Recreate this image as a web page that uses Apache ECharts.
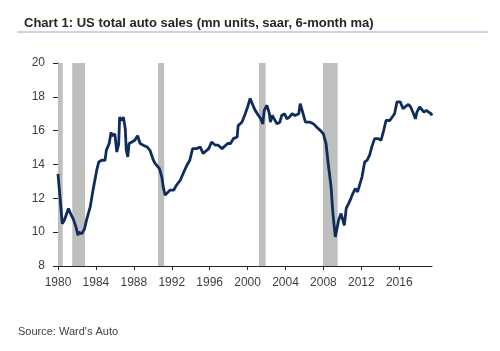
<!DOCTYPE html>
<html>
<head>
<meta charset="utf-8">
<script src="https://cdn.jsdelivr.net/npm/echarts@6/dist/echarts.min.js"></script>
<style>
  html, body { margin: 0; padding: 0; background: #fff; }
  #chart { width: 500px; height: 351px; }
</style>
</head>
<body>
<div id="chart"></div>
<script>
// US total auto sales, mn units saar, 6-month ma
var years = [
  1980.0, 1980.45, 1980.67, 1981.1, 1981.4, 1981.6, 1981.9, 1982.1, 1982.2, 1982.5,
  1982.8, 1983.0, 1983.4, 1983.7, 1984.1, 1984.3, 1984.6, 1984.96, 1985.1, 1985.4,
  1985.6, 1985.7, 1986.0, 1986.2, 1986.4, 1986.5, 1986.7, 1986.9, 1987.1, 1987.2,
  1987.36, 1987.5, 1987.8, 1988.1, 1988.4, 1988.66, 1989.0, 1989.4, 1989.7, 1990.0,
  1990.2, 1990.4, 1990.7, 1990.95, 1991.1, 1991.3, 1991.5, 1991.8, 1992.2, 1992.5,
  1992.9, 1993.2, 1993.6, 1993.9, 1994.2, 1994.6, 1995.0, 1995.3, 1995.5, 1995.9,
  1996.2, 1996.6, 1996.9, 1997.3, 1997.5, 1997.9, 1998.2, 1998.5, 1998.9, 1999.0,
  1999.4, 1999.75, 2000.0, 2000.27, 2000.56, 2000.8, 2001.15, 2001.4, 2001.6, 2001.75,
  2002.04, 2002.3, 2002.4, 2002.6, 2002.8, 2003.1, 2003.4, 2003.6, 2003.9, 2004.15,
  2004.4, 2004.7, 2005.0, 2005.4, 2005.55, 2005.7, 2005.9, 2006.1, 2006.26, 2006.6,
  2006.96, 2007.3, 2007.7, 2008.0, 2008.27, 2008.5, 2008.8, 2009.0, 2009.25, 2009.4,
  2009.6, 2009.85, 2010.06, 2010.2, 2010.4, 2010.66, 2010.9, 2011.1, 2011.36, 2011.6,
  2011.8, 2012.07, 2012.35, 2012.6, 2012.87, 2013.1, 2013.4, 2013.76, 2014.07, 2014.35,
  2014.6, 2015.0, 2015.2, 2015.5, 2015.76, 2016.1, 2016.4, 2016.6, 2016.96, 2017.2,
  2017.5, 2017.7, 2017.86, 2018.15, 2018.3, 2018.6, 2018.86, 2019.1, 2019.35, 2019.45
];
var sales = [
  13.45, 10.5, 10.7, 11.4, 11.0, 10.8, 10.3, 9.82, 10.0, 9.9,
  10.2, 10.7, 11.5, 12.5, 13.7, 14.15, 14.25, 14.25, 14.85, 15.24,
  15.9, 15.7, 15.8, 14.74, 15.2, 16.8, 16.6, 16.8, 16.1, 14.84,
  14.45, 15.24, 15.33, 15.43, 15.7, 15.24, 15.14, 15.04, 14.84, 14.35,
  14.1, 13.96, 13.76, 13.27, 12.68, 12.19, 12.29, 12.48, 12.48, 12.78,
  13.07, 13.47, 13.96, 14.25, 14.94, 14.94, 15.04, 14.65, 14.74, 14.94,
  15.33, 15.14, 15.14, 14.94, 15.04, 15.24, 15.24, 15.53, 15.63, 16.3,
  16.5, 17.0, 17.4, 17.9, 17.5, 17.2, 16.9, 16.7, 16.4, 17.2,
  17.5, 17.0, 16.5, 16.9, 16.8, 16.4, 16.5, 16.9, 17.0, 16.7,
  16.8, 17.0, 16.9, 17.0, 17.6, 17.7, 16.9, 16.5, 16.4, 16.5,
  16.4, 16.2, 16.0, 15.8, 15.24, 14.06, 12.7, 11.1, 9.72, 9.63,
  10.7, 11.1, 11.2, 10.4, 11.4, 11.7, 12.0, 12.28, 12.58, 12.38,
  12.48, 13.27, 14.15, 14.25, 14.55, 15.04, 15.53, 15.53, 15.43, 16.0,
  16.6, 16.6, 16.5, 17.0, 17.7, 17.7, 17.3, 17.4, 17.56, 17.4,
  17.0, 16.7, 17.1, 17.4, 17.5, 17.1, 17.2, 17.1, 17.0, 16.9
];
// recession periods [start, end]
var recessions = [
  [1980.0, 1980.5],
  [1981.5, 1982.85],
  [1990.55, 1991.2],
  [2001.2, 2001.9],
  [2007.95, 2009.5]
];
var yTicks = { min: 8, max: 20, step: 2 };
var xTicks = { min: 1980, max: 2019.45, step: 4 };

var chart = echarts.init(document.getElementById('chart'));
var lineData = years.map(function (y, i) { return [y, sales[i]]; });
var areas = recessions.map(function (r) { return [{ xAxis: r[0] }, { xAxis: r[1] }]; });

chart.setOption({
  animation: false,
  title: {
    text: 'Chart 1: US total auto sales (mn units, saar, 6-month ma)',
    left: 19,
    top: 12,
    textStyle: { fontFamily: 'Liberation Sans', fontSize: 13, fontWeight: 'bold', color: '#262626' }
  },
  graphic: [
    {
      type: 'line',
      shape: { x1: 17, y1: 32, x2: 488, y2: 32 },
      style: { stroke: '#8eaad6', lineWidth: 1 }
    },
    {
      type: 'text',
      left: 18,
      top: 326,
      style: { text: "Source: Ward's Auto", fontFamily: 'Liberation Sans', fontSize: 11, fill: '#404040' }
    }
  ],
  grid: { left: 58, right: 68, top: 63, bottom: 85 },
  xAxis: {
    type: 'value',
    min: xTicks.min,
    max: xTicks.max,
    interval: xTicks.step,
    splitLine: { show: false },
    axisLine: { lineStyle: { color: '#222', width: 1 } },
    axisTick: { length: 4, lineStyle: { color: '#222' } },
    axisLabel: {
      fontFamily: 'Liberation Sans', fontSize: 12, color: '#404040', margin: 11,
      showMaxLabel: false,
      formatter: function (v) { return String(Math.round(v)); }
    }
  },
  yAxis: {
    type: 'value',
    min: yTicks.min,
    max: yTicks.max,
    interval: yTicks.step,
    splitLine: { show: false },
    axisLine: { show: true, lineStyle: { color: '#222', width: 1 } },
    axisTick: { show: true, length: 5, lineStyle: { color: '#222' } },
    axisLabel: { fontFamily: 'Liberation Sans', fontSize: 12, color: '#404040', margin: 13 }
  },
  series: [
    {
      type: 'line',
      data: lineData,
      showSymbol: false,
      smooth: false,
      lineStyle: { color: '#0f2d5c', width: 2.8 },
      markArea: {
        silent: true,
        itemStyle: { color: '#bfbfbf' },
        data: areas
      },
      z: 3
    }
  ]
});
</script>
</body>
</html>
